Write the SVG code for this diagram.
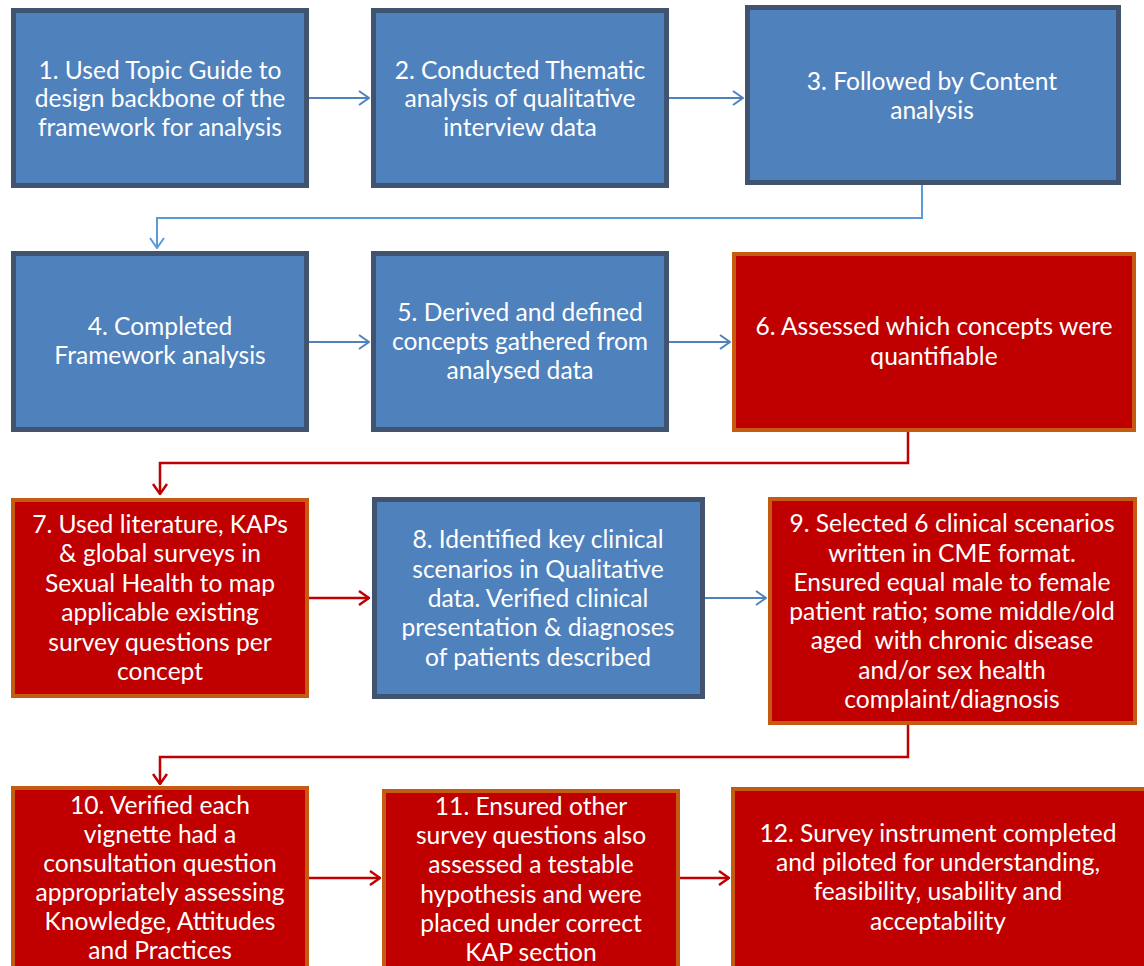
<svg xmlns="http://www.w3.org/2000/svg" width="1144" height="966" viewBox="0 0 1144 966">
<defs>
<style>
.blue{fill:#4F81BD;stroke:#41546F;stroke-width:5}
.red{fill:#C00000;stroke:#C55A11;stroke-width:4}
text{font-family:Lato,"Open Sans","Liberation Sans",sans-serif;font-size:24.6px;fill:#FFFFFF;text-anchor:middle}
.cb{fill:none;stroke:#4F81BD;stroke-width:2}
.cb2{fill:none;stroke:#5B9BD5;stroke-width:2}
.cr{fill:none;stroke:#C00000;stroke-width:2.5}
</style>
<marker id="ab" viewBox="0 0 12 16" refX="11" refY="8" markerWidth="12" markerHeight="16" markerUnits="userSpaceOnUse" orient="auto">
<path d="M1,1 L11,8 L1,15" fill="none" stroke="#4F81BD" stroke-width="2"/>
</marker>
<marker id="ab2" viewBox="0 0 12 16" refX="11" refY="8" markerWidth="12" markerHeight="16" markerUnits="userSpaceOnUse" orient="auto">
<path d="M1,1 L11,8 L1,15" fill="none" stroke="#5B9BD5" stroke-width="2"/>
</marker>
<marker id="ar" viewBox="0 0 12 16" refX="11" refY="8" markerWidth="12" markerHeight="16" markerUnits="userSpaceOnUse" orient="auto">
<path d="M1,1 L11,8 L1,15" fill="none" stroke="#C00000" stroke-width="2.5"/>
</marker>
</defs>
<rect width="1144" height="966" fill="#FFFFFF"/>
<g id="connectors">
<line class="cb" x1="309" y1="98" x2="369" y2="98" marker-end="url(#ab)"/>
<line class="cb" x1="669" y1="98" x2="743" y2="98" marker-end="url(#ab)"/>
<polyline class="cb2" points="922,185 922,218 157,218 157,248" marker-end="url(#ab2)"/>
<line class="cb" x1="309" y1="342" x2="369" y2="342" marker-end="url(#ab)"/>
<line class="cb" x1="669" y1="342" x2="730" y2="342" marker-end="url(#ab)"/>
<polyline class="cr" points="908,432 908,463 160,463 160,494" marker-end="url(#ar)"/>
<line class="cr" x1="309" y1="598" x2="369" y2="598" marker-end="url(#ar)"/>
<line class="cb" x1="705" y1="598" x2="766" y2="598" marker-end="url(#ab)"/>
<polyline class="cr" points="908,725 908,757 160,757 160,784" marker-end="url(#ar)"/>
<line class="cr" x1="309" y1="878" x2="380" y2="878" marker-end="url(#ar)"/>
<line class="cr" x1="680" y1="878" x2="729" y2="878" marker-end="url(#ar)"/>
</g>
<g id="n1"><rect class="blue" x="13.5" y="10.5" width="293" height="175"/>
<text x="160" y="79">1. Used Topic Guide to</text><text x="160" y="107">design backbone of the</text><text x="160" y="136">framework for analysis</text></g>
<g id="n2"><rect class="blue" x="373.5" y="10.5" width="293" height="175"/>
<text x="520" y="79">2. Conducted Thematic</text><text x="520" y="107">analysis of qualitative</text><text x="520" y="136">interview data</text></g>
<g id="n3"><rect class="blue" x="747.5" y="7.5" width="371" height="175"/>
<text x="932" y="90">3. Followed by Content</text><text x="932" y="119">analysis</text></g>
<g id="n4"><rect class="blue" x="13.5" y="253.5" width="293" height="176"/>
<text x="160" y="335">4. Completed</text><text x="160" y="364">Framework analysis</text></g>
<g id="n5"><rect class="blue" x="373.5" y="253.5" width="293" height="176"/>
<text x="520" y="321">5. Derived and defined</text><text x="520" y="350">concepts gathered from</text><text x="520" y="379">analysed data</text></g>
<g id="n6"><rect class="red" x="734" y="254" width="400" height="176"/>
<text x="934" y="335">6. Assessed which concepts were</text><text x="934" y="365">quantifiable</text></g>
<g id="n7"><rect class="red" x="13" y="500" width="294" height="196"/>
<text x="160" y="533">7. Used literature, KAPs</text><text x="160" y="562">&amp; global surveys in</text><text x="160" y="592">Sexual Health to map</text><text x="160" y="621">applicable existing</text><text x="160" y="651">survey questions per</text><text x="160" y="680">concept</text></g>
<g id="n8"><rect class="blue" x="374.5" y="499.5" width="328" height="197"/>
<text x="538" y="548">8. Identified key clinical</text><text x="538" y="578">scenarios in Qualitative</text><text x="538" y="607">data. Verified clinical</text><text x="538" y="636">presentation &amp; diagnoses</text><text x="538" y="666">of patients described</text></g>
<g id="n9"><rect class="red" x="770" y="499" width="365" height="224"/>
<text x="952" y="532">9. Selected 6 clinical scenarios</text><text x="952" y="562">written in CME format.</text><text x="952" y="591">Ensured equal male to female</text><text x="952" y="620">patient ratio; some middle/old</text><text x="952" y="649" xml:space="preserve">aged  with chronic disease</text><text x="952" y="679">and/or sex health</text><text x="952" y="708">complaint/diagnosis</text></g>
<g id="n10"><rect class="red" x="13" y="788" width="294" height="200"/>
<text x="160" y="814">10. Verified each</text><text x="160" y="843">vignette had a</text><text x="160" y="872">consultation question</text><text x="160" y="901">appropriately assessing</text><text x="160" y="930">Knowledge, Attitudes</text><text x="160" y="959">and Practices</text></g>
<g id="n11"><rect class="red" x="384" y="791" width="294" height="200"/>
<text x="531" y="815">11. Ensured other</text><text x="531" y="844">survey questions also</text><text x="531" y="873">assessed a testable</text><text x="531" y="903">hypothesis and were</text><text x="531" y="932">placed under correct</text><text x="531" y="961">KAP section</text></g>
<g id="n12"><rect class="red" x="733" y="789" width="430" height="200"/>
<text x="938" y="842">12. Survey instrument completed</text><text x="938" y="871">and piloted for understanding,</text><text x="938" y="900">feasibility, usability and</text><text x="938" y="930">acceptability</text></g>
</svg>
